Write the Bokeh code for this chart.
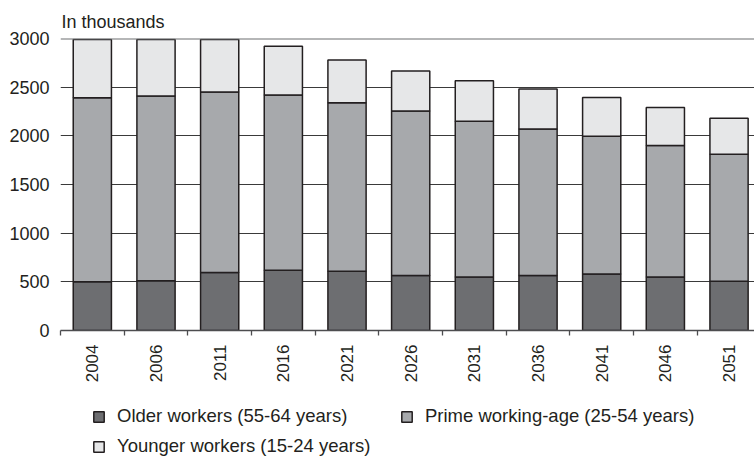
import math

from bokeh.embed import file_html
from bokeh.layouts import column
from bokeh.models import (ColumnDataSource, FixedTicker, Legend, LegendItem,
                          Range1d, Span)
from bokeh.plotting import figure
from bokeh.resources import INLINE

# Labour force by age group, in thousands
years = ["2004", "2006", "2011", "2016", "2021", "2026",
         "2031", "2036", "2041", "2046", "2051"]
older = [500, 510, 595, 620, 610, 565, 550, 565, 580, 550, 505]
prime = [1890, 1900, 1855, 1800, 1730, 1690, 1600, 1505, 1415, 1350, 1305]
younger = [600, 580, 540, 500, 440, 410, 415, 410, 400, 390, 370]

y_ticks = [0, 500, 1000, 1500, 2000, 2500, 3000]

series = ["older", "prime", "younger"]
labels = ["Older workers (55-64 years)",
          "Prime working-age (25-54 years)",
          "Younger workers (15-24 years)"]
fills = ["#6d6e71", "#a7a9ac", "#e6e7e8"]

FONT = "Liberation Sans"
INK = "#231f20"

pos = list(range(len(years)))
src = ColumnDataSource(dict(x=pos, older=older, prime=prime, younger=younger))

p = figure(frame_width=694, frame_height=292, output_backend="svg",
           toolbar_location=None,
           x_range=Range1d(-0.5, len(years) - 0.6), y_range=Range1d(0, 3000),
           min_border_left=60, min_border_right=0, min_border_top=38,
           min_border_bottom=66, outline_line_color=None,
           title="In thousands")

p.title.text_font = FONT
p.title.text_font_size = "18px"
p.title.text_font_style = "normal"
p.title.text_color = INK
p.title.standoff = 14
p.title.offset = 1

p.vbar_stack(series, x="x", width=0.6, source=src, fill_color=fills,
             line_color=INK, line_width=1.5)

# y axis: labels only, grid lines carry the scale
yax = p.yaxis[0]
yax.ticker = FixedTicker(ticks=y_ticks)
yax.axis_line_color = None
yax.major_tick_line_color = None
yax.minor_tick_line_color = None
yax.major_tick_out = 0
yax.major_tick_in = 0
yax.major_label_standoff = 11
yax.major_label_text_font = FONT
yax.major_label_text_font_size = "18px"
yax.major_label_text_color = INK

p.xgrid.grid_line_color = None
p.ygrid.grid_line_color = "#3a3a3a"
p.ygrid.grid_line_width = 1.2

p.add_layout(Span(location=y_ticks[-1], dimension="width",
                  line_color="#6d6e71", line_width=2.2))

# x axis: year labels at bar centres, tick marks between bars
xax = p.xaxis[0]
xax.ticker = FixedTicker(ticks=pos, minor_ticks=[i - 0.5 for i in range(len(years) + 1)])
xax.major_label_overrides = {i: y for i, y in enumerate(years)}
xax.major_label_orientation = math.pi / 2
xax.major_tick_out = 0
xax.major_tick_in = 0
xax.minor_tick_out = 5
xax.minor_tick_in = 0
xax.minor_tick_line_color = "#4d4d4f"
xax.minor_tick_line_width = 1.3
xax.axis_line_color = "#4d4d4f"
xax.axis_line_width = 1.6
xax.major_label_standoff = 9
xax.major_label_text_font = FONT
xax.major_label_text_font_size = "17px"
xax.major_label_text_color = INK

# legend strip underneath the chart; its hidden renderers only supply swatches
key = figure(width=754, height=60, output_backend="svg", toolbar_location=None,
             x_range=Range1d(0, 1), y_range=Range1d(0, 1),
             min_border=0, outline_line_color=None)
key.axis.visible = False
key.grid.visible = False
swatches = key.vbar_stack(series, x="x", width=0.6, source=src,
                          fill_color=fills, line_color=INK, line_width=1.5,
                          visible=False)

legend = Legend(
    items=[LegendItem(label=l, renderers=[r]) for l, r in zip(labels, swatches)],
    orientation="horizontal", ncols=2, location=(32, -1),
    glyph_width=13, glyph_height=13, label_standoff=12,
    label_width=275, label_height=21, spacing=8,
    padding=0, margin=0, border_line_color=None, background_fill_alpha=0,
    inactive_fill_alpha=0,
    label_text_font=FONT, label_text_font_size="18.5px", label_text_color=INK,
)
key.add_layout(legend, "center")

layout = column(p, key, spacing=0)
open("out.html", "w").write(file_html(layout, INLINE))
